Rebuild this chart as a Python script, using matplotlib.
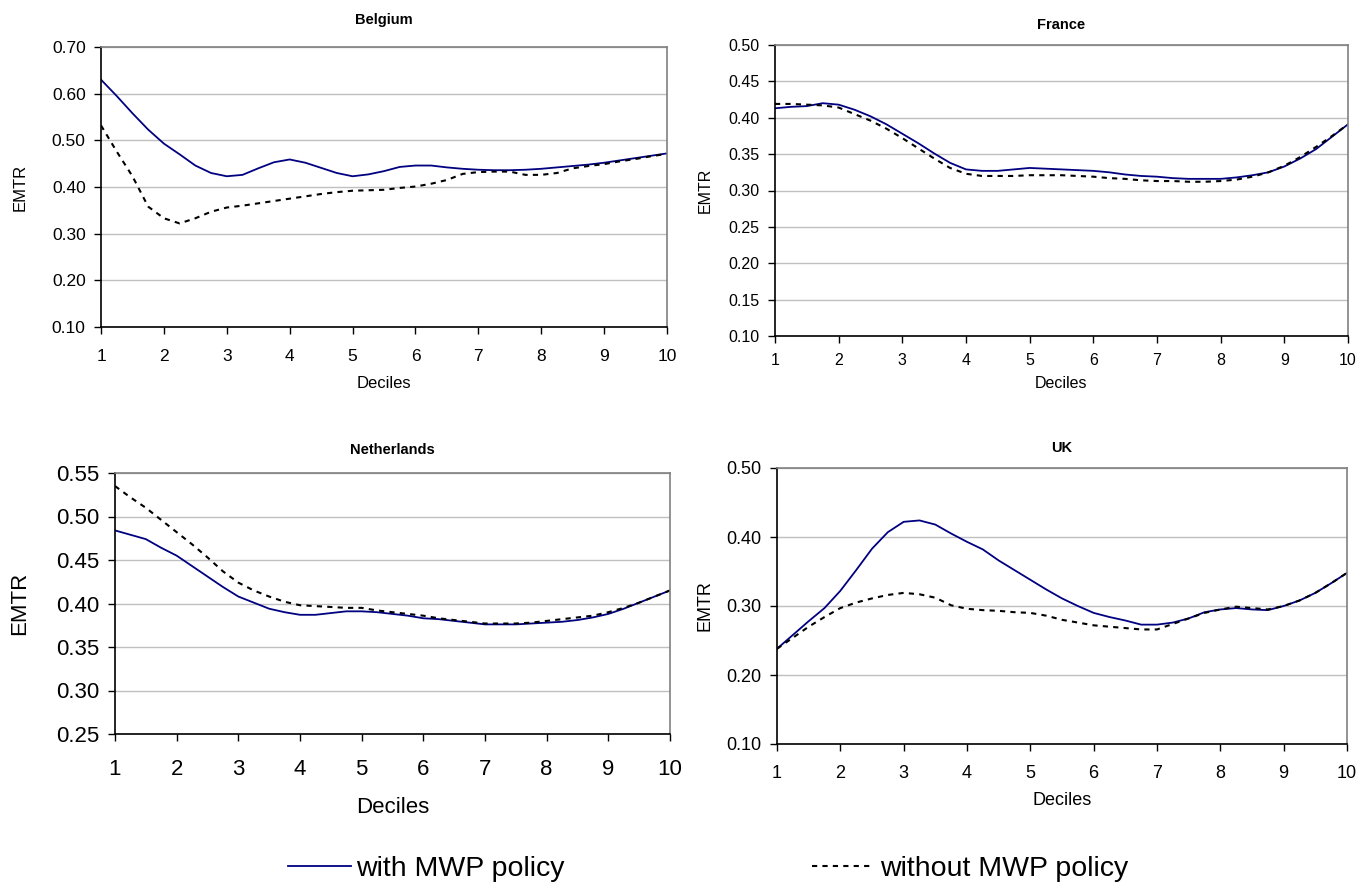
import matplotlib
matplotlib.use("Agg")
import matplotlib.pyplot as plt
from matplotlib.ticker import FormatStrFormatter

plt.rcParams["font.family"] = ["Liberation Sans", "DejaVu Sans"]

# -----------------------------
# Data
# -----------------------------

deciles = [1, 1.25, 1.5, 1.75, 2, 2.25, 2.5, 2.75, 3, 3.25, 3.5, 3.75,
           4, 4.25, 4.5, 4.75, 5, 5.25, 5.5, 5.75, 6, 6.25, 6.5, 6.75,
           7, 7.25, 7.5, 7.75, 8, 8.25, 8.5, 8.75, 9, 9.25, 9.5, 9.75, 10]
decile_ticks = [1, 2, 3, 4, 5, 6, 7, 8, 9, 10]

belgium_with = [0.630, 0.595, 0.558, 0.523, 0.493, 0.470, 0.446, 0.430, 0.423,
                0.426, 0.440, 0.453, 0.459, 0.452, 0.441, 0.430, 0.423, 0.427,
                0.434, 0.443, 0.446, 0.446, 0.442, 0.439, 0.437, 0.436, 0.436,
                0.437, 0.439, 0.442, 0.445, 0.448, 0.452, 0.457, 0.462, 0.467,
                0.472]
belgium_without = [0.532, 0.476, 0.423, 0.358, 0.333, 0.322, 0.333, 0.347, 0.356,
                   0.360, 0.365, 0.370, 0.375, 0.380, 0.385, 0.389, 0.392, 0.393,
                   0.394, 0.398, 0.401, 0.407, 0.415, 0.428, 0.432, 0.433, 0.433,
                   0.426, 0.426, 0.430, 0.440, 0.445, 0.449, 0.455, 0.460, 0.466,
                   0.471]

france_with = [0.413, 0.415, 0.416, 0.420, 0.418, 0.411, 0.402, 0.391, 0.378,
               0.365, 0.351, 0.338, 0.329, 0.327, 0.327, 0.329, 0.331, 0.330,
               0.329, 0.328, 0.327, 0.325, 0.322, 0.320, 0.319, 0.317, 0.316,
               0.316, 0.316, 0.318, 0.321, 0.325, 0.333, 0.344, 0.357, 0.374,
               0.391]
france_without = [0.419, 0.419, 0.418, 0.417, 0.414, 0.405, 0.396, 0.385, 0.372,
                  0.358, 0.344, 0.331, 0.323, 0.320, 0.320, 0.320, 0.321, 0.321,
                  0.321, 0.320, 0.319, 0.317, 0.316, 0.314, 0.313, 0.313, 0.312,
                  0.312, 0.313, 0.315, 0.319, 0.325, 0.334, 0.346, 0.360, 0.375,
                  0.391]

netherlands_with = [0.484, 0.479, 0.474, 0.464, 0.455, 0.443, 0.431, 0.419, 0.408,
                    0.401, 0.394, 0.390, 0.387, 0.387, 0.389, 0.391, 0.391, 0.390,
                    0.388, 0.386, 0.383, 0.382, 0.380, 0.378, 0.376, 0.376, 0.376,
                    0.377, 0.378, 0.379, 0.381, 0.384, 0.388, 0.394, 0.401, 0.408,
                    0.415]
netherlands_without = [0.535, 0.522, 0.510, 0.496, 0.482, 0.468, 0.453, 0.437, 0.424,
                       0.415, 0.408, 0.402, 0.398, 0.397, 0.396, 0.395, 0.395, 0.392,
                       0.390, 0.388, 0.386, 0.383, 0.381, 0.379, 0.377, 0.377, 0.377,
                       0.378, 0.380, 0.382, 0.384, 0.386, 0.390, 0.395, 0.401, 0.408,
                       0.415]

uk_with = [0.238, 0.258, 0.278, 0.297, 0.322, 0.352, 0.383, 0.407, 0.422,
           0.424, 0.418, 0.405, 0.393, 0.382, 0.366, 0.352, 0.338, 0.324,
           0.311, 0.300, 0.290, 0.284, 0.279, 0.273, 0.273, 0.276, 0.282,
           0.291, 0.295, 0.297, 0.295, 0.294, 0.300, 0.308, 0.319, 0.333,
           0.348]
uk_without = [0.238, 0.254, 0.270, 0.284, 0.297, 0.305, 0.311, 0.316, 0.319,
              0.317, 0.312, 0.301, 0.296, 0.294, 0.293, 0.291, 0.290, 0.286,
              0.280, 0.276, 0.272, 0.270, 0.268, 0.266, 0.266, 0.274, 0.282,
              0.290, 0.295, 0.299, 0.297, 0.295, 0.300, 0.308, 0.319, 0.333,
              0.348]

belgium_yticks = [0.10, 0.20, 0.30, 0.40, 0.50, 0.60, 0.70]
france_yticks = [0.10, 0.15, 0.20, 0.25, 0.30, 0.35, 0.40, 0.45, 0.50]
netherlands_yticks = [0.25, 0.30, 0.35, 0.40, 0.45, 0.50, 0.55]
uk_yticks = [0.10, 0.20, 0.30, 0.40, 0.50]

legend_labels = ["with MWP policy", "without MWP policy"]

# -----------------------------
# Figure layout (pixel boxes of each panel)
# -----------------------------

W, H = 1372, 884
fig = plt.figure(figsize=(W / 100, H / 100), dpi=100)


def make_axes(left, right, top, bottom):
    return fig.add_axes([left / W, 1 - bottom / H, (right - left) / W, (bottom - top) / H])


def style_panel(ax, title, yticks, tick_fs, label_fs, title_y, xlabel_y, ylabel_x, xpad):
    ax.set_xlim(1, 10)
    ax.set_ylim(yticks[0], yticks[-1])
    ax.set_xticks(decile_ticks)
    ax.set_yticks(yticks)
    ax.yaxis.set_major_formatter(FormatStrFormatter("%.2f"))
    ax.grid(True, axis="y", color="#c0c0c0", linewidth=1.0)
    ax.set_axisbelow(True)
    for side in ("top", "right"):
        ax.spines[side].set_color("#808080")
        ax.spines[side].set_linewidth(1.2)
    for side in ("left", "bottom"):
        ax.spines[side].set_color("black")
        ax.spines[side].set_linewidth(1.2)
    ax.tick_params(direction="out", length=5, width=1, labelsize=tick_fs, pad=6)
    ax.tick_params(axis="x", pad=xpad)
    ax.set_ylabel("EMTR", fontsize=label_fs)
    ax.set_xlabel("Deciles", fontsize=label_fs)
    ax.xaxis.set_label_coords(0.5, xlabel_y)
    ax.yaxis.set_label_coords(ylabel_x, 0.5)
    ax.set_title(title, fontsize=10.5, fontweight="bold", y=title_y)


def draw(ax, with_vals, without_vals):
    l1, = ax.plot(deciles, with_vals, color="#000080", linewidth=1.3)
    l2, = ax.plot(deciles, without_vals, color="black", linewidth=1.5,
                  linestyle=(0, (2.5, 2.5)))
    return l1, l2


ax_be = make_axes(101, 667, 47, 327)
line_with, line_without = draw(ax_be, belgium_with, belgium_without)
style_panel(ax_be, "Belgium", belgium_yticks, 12.5, 12, 1.051, -0.176, -0.129, 11)

ax_fr = make_axes(775, 1348, 45, 336)
draw(ax_fr, france_with, france_without)
style_panel(ax_fr, "France", france_yticks, 11.5, 11.5, 1.026, -0.139, -0.108, 7.5)

ax_nl = make_axes(115, 670, 473, 734)
draw(ax_nl, netherlands_with, netherlands_without)
style_panel(ax_nl, "Netherlands", netherlands_yticks, 16, 16, 1.041, -0.243, -0.153, 13)

ax_uk = make_axes(777, 1347, 468, 744)
draw(ax_uk, uk_with, uk_without)
style_panel(ax_uk, "UK", uk_yticks, 13, 13, 1.029, -0.175, -0.112, 10.3)

# -----------------------------
# Legend along the bottom
# -----------------------------

fig.legend([line_with], [legend_labels[0]], loc="center left",
           bbox_to_anchor=(288 / W, 1 - 869 / H), frameon=False, fontsize=20.5,
           handlelength=2.2, handletextpad=0.2, borderpad=0, borderaxespad=0)
fig.legend([line_without], [legend_labels[1]], loc="center left",
           bbox_to_anchor=(812 / W, 1 - 869 / H), frameon=False, fontsize=20.5,
           handlelength=2.1, handletextpad=0.3, borderpad=0, borderaxespad=0)

fig.savefig("out.png", dpi=100)
